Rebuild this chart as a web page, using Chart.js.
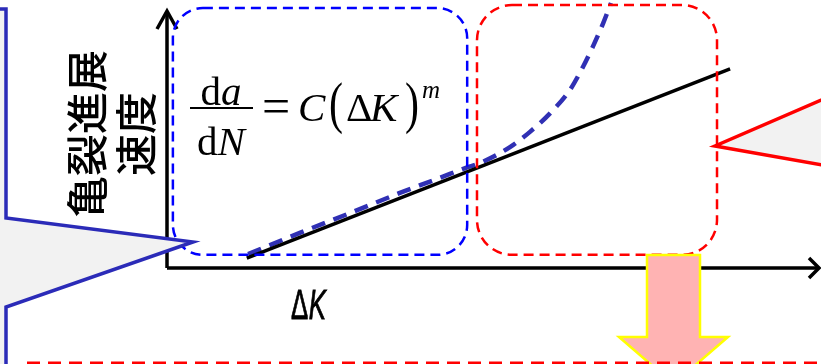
<!DOCTYPE html>
<html lang="ja">
<head>
<meta charset="utf-8">
<title>亀裂進展速度と ΔK</title>
<script src="https://cdn.jsdelivr.net/npm/chart.js@4.4.1/dist/chart.umd.min.js"></script>
<style>
  html, body { margin: 0; padding: 0; background: #fff; }
  #wrap { width: 821px; height: 364px; }
</style>
</head>
<body>
<div id="wrap"><canvas id="chart" width="821" height="364"></canvas></div>
<script>
// Paris law: straight line da/dN = C(ΔK)^m
const parisX = [12.2, 86.1];
const parisY = [3.7, 74.3];

// measured growth rate, follows the line then turns up at high ΔK
const measuredX = [12.4, 20.3, 28.0, 35.6, 41.7, 45.6, 47.9, 52.5, 55.5, 58.6, 61.6, 63.6, 65.1, 66.7, 67.9];
const measuredY = [5.2, 13.1, 20.5, 28.0, 33.6, 37.3, 39.2, 45.2, 50.8, 57.8, 66.4, 75.0, 82.5, 91.4, 98.9];

// regions marked on the ΔK axis: [xFrom, xTo, yFrom, yTo]
const stableRegion = [0.9, 45.9, 4.9, 97.0];
const acceleratedRegion = [47.4, 84.1, 4.9, 98.1];

const yTitleLines = ["亀裂進展", "速度"];
const xTitle = ["Δ", "K"];

const SERIF = '"Liberation Serif", "DejaVu Serif", serif';
const SANS = '"Liberation Sans", Arial, sans-serif';
const CJK = '"Noto Sans CJK JP", "Noto Sans CJK SC", sans-serif';

function toPoints(xs, ys) {
  return xs.map((x, i) => ({ x, y: ys[i] }));
}

function roundedBox(ctx, x0, y0, x1, y1, r) {
  ctx.beginPath();
  ctx.moveTo(x0 + r, y0);
  ctx.lineTo(x1 - r, y0);
  ctx.arcTo(x1, y0, x1, y0 + r, r);
  ctx.lineTo(x1, y1 - r);
  ctx.arcTo(x1, y1, x1 - r, y1, r);
  ctx.lineTo(x0 + r, y1);
  ctx.arcTo(x0, y1, x0, y1 - r, r);
  ctx.lineTo(x0, y0 + r);
  ctx.arcTo(x0, y0, x0 + r, y0, r);
  ctx.closePath();
}

function polygon(ctx, pts, close) {
  ctx.beginPath();
  ctx.moveTo(pts[0][0], pts[0][1]);
  for (let i = 1; i < pts.length; i++) ctx.lineTo(pts[i][0], pts[i][1]);
  if (close) ctx.closePath();
}

// glyph drawn squeezed or stretched horizontally
function glyph(ctx, text, font, x, y, sx) {
  ctx.save();
  ctx.translate(x, y);
  ctx.scale(sx, 1);
  ctx.font = font;
  ctx.fillText(text, 0, 0);
  ctx.restore();
}

const axesPlugin = {
  id: "axes",
  beforeDatasetsDraw(chart) {
    const { ctx, chartArea } = chart;
    const left = chartArea.left;
    const bottom = chartArea.bottom;
    ctx.save();
    ctx.strokeStyle = "#000";
    ctx.lineWidth = 3.5;
    ctx.lineJoin = "miter";
    ctx.beginPath();
    ctx.moveTo(left, bottom);
    ctx.lineTo(left, chartArea.top + 11);
    ctx.moveTo(left, bottom);
    ctx.lineTo(chartArea.right - 2, bottom);
    ctx.stroke();
    // open arrow heads
    polygon(ctx, [[left - 10, chartArea.top + 29], [left, chartArea.top + 11], [left + 10, chartArea.top + 29]]);
    ctx.stroke();
    polygon(ctx, [[chartArea.right - 12, bottom - 10], [chartArea.right - 2, bottom], [chartArea.right - 12, bottom + 10]]);
    ctx.stroke();
    ctx.restore();
  },
};

const notesPlugin = {
  id: "notes",
  afterDatasetsDraw(chart) {
    const { ctx } = chart;
    const sx = chart.scales.x;
    const sy = chart.scales.y;

    const region = (r, color, radius) => {
      roundedBox(ctx, sx.getPixelForValue(r[0]), sy.getPixelForValue(r[3]),
        sx.getPixelForValue(r[1]), sy.getPixelForValue(r[2]), radius);
      ctx.strokeStyle = color;
      ctx.lineWidth = 2.5;
      ctx.setLineDash([10, 6]);
      ctx.stroke();
      ctx.setLineDash([]);
    };

    ctx.save();
    region(stableRegion, "#0000ff", 30);
    region(acceleratedRegion, "#ff0000", 35);

    // callout pointing at the low ΔK end
    ctx.lineWidth = 3.5;
    ctx.lineJoin = "miter";
    polygon(ctx, [[-20, 9], [6, 9], [6, 218], [193, 242], [6, 307], [6, 380], [-20, 380]], true);
    ctx.fillStyle = "#f2f2f2";
    ctx.fill();
    ctx.strokeStyle = "#2b2bb8";
    ctx.stroke();

    // callout pointing at the accelerated region
    polygon(ctx, [[840, 92], [715, 146], [840, 168]], false);
    ctx.fillStyle = "#f2f2f2";
    ctx.fill();
    ctx.strokeStyle = "#ff0000";
    ctx.stroke();

    // down arrow
    polygon(ctx, [[647, 255], [700, 255], [700, 337], [728, 337], [673.5, 384], [619, 337], [647, 337]], true);
    ctx.fillStyle = "#ffb3b3";
    ctx.fill();
    ctx.strokeStyle = "#ffff00";
    ctx.lineWidth = 2.5;
    ctx.stroke();

    // box below the chart
    ctx.beginPath();
    ctx.moveTo(27, 363);
    ctx.lineTo(830, 363);
    ctx.strokeStyle = "#ff0000";
    ctx.lineWidth = 3;
    ctx.setLineDash([13, 8]);
    ctx.stroke();
    ctx.setLineDash([]);

    // vertical axis title
    ctx.fillStyle = "#000";
    ctx.font = `500 42px ${CJK}`;
    ctx.textAlign = "center";
    ctx.textBaseline = "middle";
    [87, 136].forEach((x, i) => {
      ctx.save();
      ctx.translate(x, 134);
      ctx.rotate(-Math.PI / 2);
      ctx.fillText(yTitleLines[i], 0, 0);
      ctx.restore();
    });

    // horizontal axis title, narrow ΔK
    ctx.textAlign = "left";
    ctx.textBaseline = "alphabetic";
    ctx.save();
    ctx.translate(291, 319);
    ctx.scale(0.6, 1);
    ctx.lineWidth = 0.9;
    ctx.strokeStyle = "#000";
    ctx.font = `43px ${SANS}`;
    ctx.fillText(xTitle[0], 0, 0);
    ctx.strokeText(xTitle[0], 0, 0);
    const dw = ctx.measureText(xTitle[0]).width;
    ctx.font = `italic 43px ${SANS}`;
    ctx.fillText(xTitle[1], dw + 1, 0);
    ctx.strokeText(xTitle[1], dw + 1, 0);
    ctx.restore();

    // da/dN = C(ΔK)^m
    const upright = `41px ${SERIF}`;
    const italic = `italic 41px ${SERIF}`;
    const fracRow = (a, b, cx, base) => {
      ctx.font = upright;
      const wa = ctx.measureText(a).width;
      ctx.font = italic;
      const wb = ctx.measureText(b).width;
      const x0 = cx - (wa + wb) / 2;
      ctx.font = upright;
      ctx.fillText(a, x0, base);
      ctx.font = italic;
      ctx.fillText(b, x0 + wa, base);
    };
    fracRow("d", "a", 221, 105);
    fracRow("d", "N", 221, 155);
    ctx.fillRect(190, 107, 63, 2);

    glyph(ctx, "=", `50px ${SERIF}`, 262, 123, 1);
    ctx.font = italic;
    ctx.fillText("C", 298, 121);
    glyph(ctx, "(", `56px ${SERIF}`, 329, 122, 0.75);
    glyph(ctx, ")", `56px ${SERIF}`, 405, 122, 0.75);
    ctx.font = upright;
    ctx.fillText("Δ", 346, 121);
    ctx.font = italic;
    ctx.fillText("K", 370, 121);
    ctx.font = `italic 25px ${SERIF}`;
    ctx.fillText("m", 422, 98);
    ctx.restore();
  },
};

new Chart(document.getElementById("chart"), {
  type: "line",
  data: {
    datasets: [
      {
        data: toPoints(parisX, parisY),
        borderColor: "#000",
        borderWidth: 3.5,
        pointRadius: 0,
        fill: false,
      },
      {
        data: toPoints(measuredX, measuredY),
        borderColor: "#3030b4",
        borderWidth: 4.5,
        borderDash: [14, 9],
        cubicInterpolationMode: "monotone",
        pointRadius: 0,
        fill: false,
        clip: false,
      },
    ],
  },
  options: {
    responsive: false,
    animation: false,
    events: [],
    layout: { padding: { left: 167, top: 0, right: 0, bottom: 96 } },
    scales: {
      x: { type: "linear", min: 0, max: 100, display: false },
      y: { type: "linear", min: 0, max: 100, display: false },
    },
    plugins: { legend: { display: false }, tooltip: { enabled: false } },
  },
  plugins: [axesPlugin, notesPlugin],
});
</script>
</body>
</html>
